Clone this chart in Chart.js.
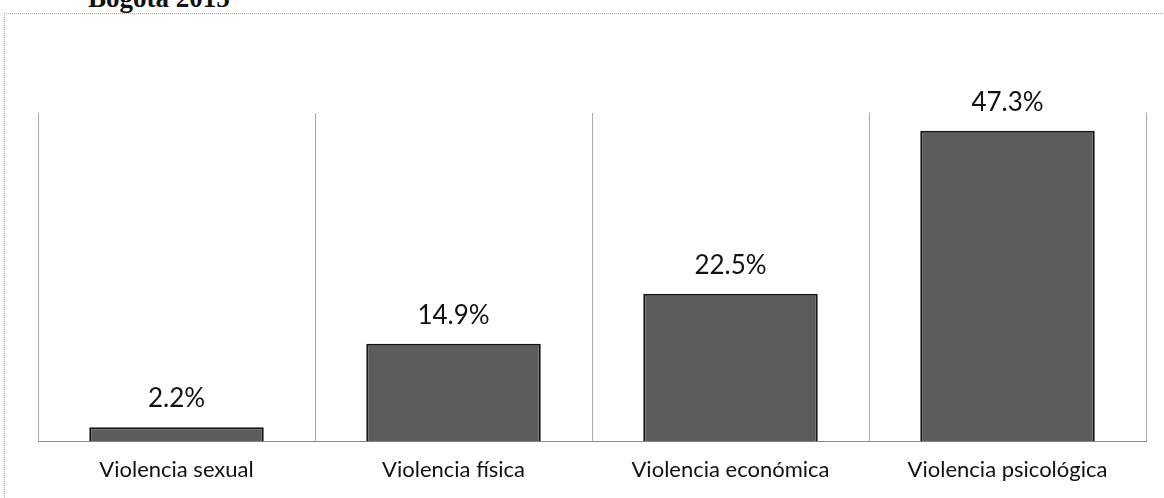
<!DOCTYPE html>
<html>
<head>
<meta charset="utf-8">
<script src="https://cdn.jsdelivr.net/npm/chart.js@4/dist/chart.umd.min.js"></script>
<style>
  html, body { margin: 0; padding: 0; background: #fff; }
  #wrap { position: relative; width: 1164px; height: 498px; overflow: hidden; }
  #frame { position: absolute; left: 4px; top: 13px; width: 1170px; height: 500px;
           border-left: 1px dotted #aaa; border-top: 1px dotted #aaa; }
  #title { position: absolute; left: 88px; top: -17px; font-family: "Liberation Serif", serif;
           font-weight: bold; font-size: 27px; color: #111; }
  canvas { position: absolute; left: 0; top: 0; }
</style>
</head>
<body>
<div id="wrap">
  <div id="frame"></div>
  <div id="title">Bogotá 2015</div>
  <canvas id="c" width="1164" height="498"></canvas>
</div>
<script>
const categories = ["Violencia sexual", "Violencia física", "Violencia económica", "Violencia psicológica"];
const values = [2.2, 14.9, 22.5, 47.3];
const valueLabels = ["2.2%", "14.9%", "22.5%", "47.3%"];

const valueLabelPlugin = {
  id: 'valueLabels',
  afterDatasetsDraw(chart) {
    const ctx = chart.ctx;
    const meta = chart.getDatasetMeta(0);
    ctx.save();
    ctx.font = '26px Lato, "Open Sans", sans-serif';
    ctx.fillStyle = '#111';
    ctx.textAlign = 'center';
    ctx.textBaseline = 'alphabetic';
    meta.data.forEach((bar, i) => {
      ctx.fillText(valueLabels[i], bar.x, bar.y - 20);
    });
    ctx.restore();
  }
};

new Chart(document.getElementById('c'), {
  type: 'bar',
  data: {
    labels: categories,
    datasets: [{
      data: values,
      backgroundColor: '#5c5c5c',
      borderColor: '#151515',
      borderWidth: 2,
      categoryPercentage: 1,
      barPercentage: 0.63
    }]
  },
  options: {
    responsive: false,
    animation: false,
    devicePixelRatio: 1,
    layout: { padding: { left: 38, right: 18, top: 113, bottom: 0 } },
    plugins: { legend: { display: false }, tooltip: { enabled: false } },
    scales: {
      x: {
        grid: { display: true, offset: true, drawTicks: false, color: '#a8a8a8', lineWidth: 1 },
        border: { display: true, color: '#8a8a8a', width: 1 },
        ticks: { color: '#111', padding: 15, font: { family: 'Lato, "Open Sans", sans-serif', size: 22 } }
      },
      y: {
        display: false,
        min: 0,
        max: 50
      }
    }
  },
  plugins: [valueLabelPlugin]
});
</script>
</body>
</html>
